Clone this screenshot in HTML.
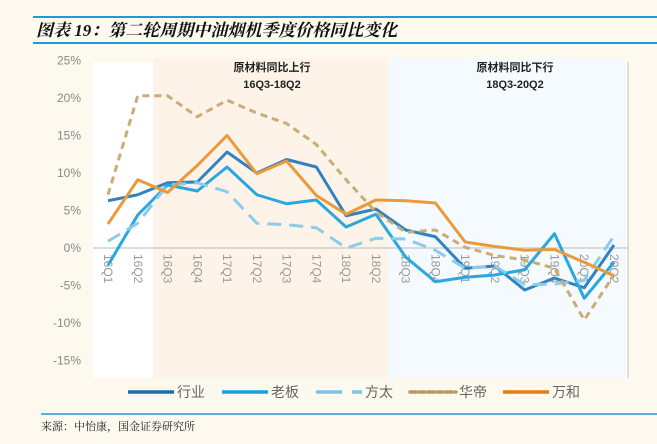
<!DOCTYPE html>
<html><head><meta charset="utf-8">
<style>
body{margin:0;background:#fdf9ef;width:657px;height:444px;overflow:hidden;font-family:"Liberation Sans","Noto Sans CJK SC",sans-serif;}
svg{display:block}
</style></head>
<body>
<svg width="657" height="444">
<rect x="0" y="0" width="657" height="444" fill="#fdf9ef"/>
<line x1="33" y1="17" x2="657" y2="17" stroke="#1f9ad6" stroke-width="2"/>
<line x1="33" y1="43" x2="657" y2="43" stroke="#1f9ad6" stroke-width="2"/>
<text x="36" y="36" font-size="17" font-style="italic" font-weight="bold" fill="#111" font-family="'Liberation Serif','Noto Serif CJK SC',serif">图表 19：第二轮周期中油烟机季度价格同比变化</text>
<rect x="93" y="62" width="535" height="316" fill="#ffffff"/>
<rect x="153" y="58" width="235" height="320" fill="#fdf3e8"/>
<rect x="388" y="58" width="238" height="320" fill="#f4fafd"/>
<text x="272" y="71" font-size="11" font-weight="bold" text-anchor="middle" fill="#222">原材料同比上行</text>
<text x="272" y="88" font-size="11" font-weight="bold" text-anchor="middle" fill="#222">16Q3-18Q2</text>
<text x="515" y="71" font-size="11" font-weight="bold" text-anchor="middle" fill="#222">原材料同比下行</text>
<text x="515" y="88" font-size="11" font-weight="bold" text-anchor="middle" fill="#222">18Q3-20Q2</text>
<line x1="628" y1="62" x2="628" y2="378" stroke="#c8c0b0"/>
<g id="yaxis"></g>
<g id="xaxis"></g>
<g id="series"></g>
<g id="legend"></g>
<line x1="41" y1="414" x2="657" y2="414" stroke="#1f9ad6" stroke-width="1.5"/>
<text x="41" y="430" font-size="11" fill="#222" font-family="'Liberation Serif','Noto Serif CJK SC',serif">来源：中怡康，国金证券研究所</text>
</svg>
<script>
const categories=["16Q1","16Q2","16Q3","16Q4","17Q1","17Q2","17Q3","17Q4","18Q1","18Q2","18Q3","18Q4","19Q1","19Q2","19Q3","19Q4","20Q1","20Q2"];
const yTicks=[25,20,15,10,5,0,-5,-10,-15];
const industry=[6.3,7.1,8.7,8.8,12.8,10,11.8,10.8,4.3,5.2,2.4,1.5,-2.7,-2.4,-5.6,-4,-5.3,0.4];
const robam=[-2.3,4.4,8.4,7.6,10.8,7.1,5.9,6.4,2.8,4.5,-1.2,-4.5,-3.9,-3.6,-2.9,1.9,-6.7,-1.9];
const fotile=[0.9,3.3,8.4,8.7,7.5,3.3,3.1,2.7,0,1.3,1.2,-0.3,-2.7,-2.4,-4.9,-4.8,-4.3,1.6];
const vatti=[7.1,20.3,20.3,17.5,19.7,18,16.6,13.8,9.1,4.8,2.1,2.4,0.1,-1,-1.6,-2.7,-9.6,-3.6];
const vanward=[3.2,9.1,7.4,11,15,9.9,11.6,7,4.5,6.4,6.3,6,0.8,0.2,-0.3,-0.2,-1.9,-3.7];
const seriesNames=["行业","老板","方太","华帝","万和"];
const NS="http://www.w3.org/2000/svg";
const x=i=>108+i*(614-108)/(categories.length-1);
const y=v=>248-v*(300/40);
function mk(t,a,p){const e=document.createElementNS(NS,t);for(const k in a)e.setAttribute(k,a[k]);p.appendChild(e);return e;}
const ya=document.getElementById('yaxis');
yTicks.forEach(v=>{const t=mk('text',{x:81,y:y(v)+4,'font-size':12,'text-anchor':'end',fill:'#888'},ya);t.textContent=v+'%';

});
const xa=document.getElementById('xaxis');
const ax=mk('line',{x1:93,y1:y(0),x2:628,y2:y(0),stroke:'#d0d0d0','stroke-width':1.5},xa);


categories.forEach((c,i)=>{const t=mk('text',{transform:`translate(${x(i)-4},${y(0)+6}) rotate(90)`,'font-size':12,fill:'#999'},xa);t.textContent=c;

});
const defs=[
 {d:industry,c:'#2f83c0',dash:'',n:'series-industry'},
 {d:robam,c:'#29a8e0',dash:'',n:'series-robam'},
 {d:fotile,c:'#8dcbeb',dash:'14 8',n:'series-fotile'},
 {d:vatti,c:'#c8ad74',dash:'7 5',n:'series-vatti'},
 {d:vanward,c:'#eb9a3a',dash:'',n:'series-vanward'}];
const sg=document.getElementById('series');
defs.forEach(s=>{const p=mk('polyline',{points:s.d.map((v,i)=>x(i)+','+y(v)).join(' '),fill:'none',stroke:s.c,'stroke-width':3,'stroke-dasharray':s.dash,'stroke-linejoin':'round'},sg);

});
const lg=document.getElementById('legend');
const lc=['#1a6fb0','#16a0e0','#7cc2ea','#b89a5e','#e67e14'];
const lx=[128,222,316,410,503];
seriesNames.forEach((n,i)=>{const g=mk('g',{},lg);


mk('line',{x1:lx[i],y1:392,x2:lx[i]+46,y2:392,stroke:lc[i],'stroke-width':3.5,'stroke-dasharray':i==2?'26 10':(i==3?'6 3':''),'stroke-linecap':i==3?'round':'butt'},g);
const t=mk('text',{x:lx[i]+49,y:397,'font-size':14,fill:'#666'},g);t.textContent=n;});
</script>
</body></html>
